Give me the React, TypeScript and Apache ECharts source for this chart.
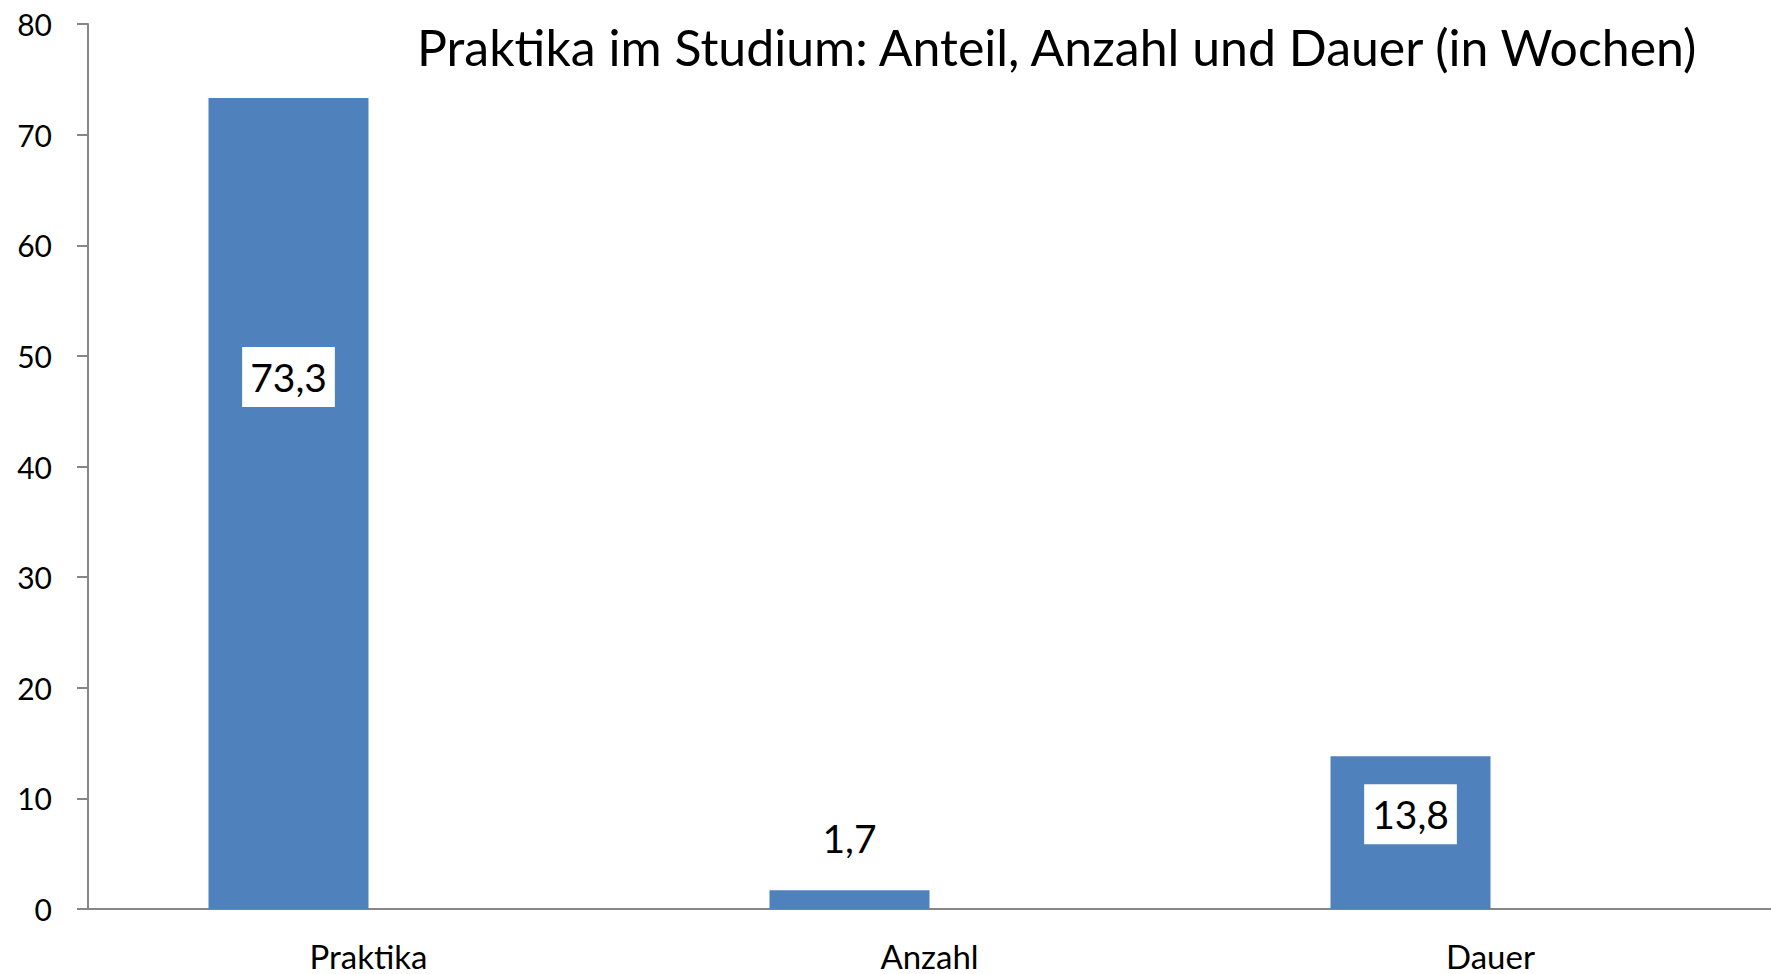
import React, { useEffect, useRef } from "react";
import * as echarts from "echarts";

const titleText = "Praktika im Studium: Anteil, Anzahl und Dauer (in Wochen)";
const categories = ["Praktika", "Anzahl", "Dauer"];
const values = [73.3, 1.7, 13.8];
const labelTexts = ["73,3", "1,7", "13,8"];
const yTicks = [0, 10, 20, 30, 40, 50, 60, 70, 80];

const FONT = "Lato, 'Open Sans', sans-serif";

export default function App() {
  const ref = useRef<HTMLDivElement>(null);
  useEffect(() => {
    if (!ref.current) return;
    const chart = echarts.init(ref.current, null, { renderer: "svg" });
    const labelCfg = [
      { position: ["50%", "34.4%"], boxed: true },
      { position: ["50%", -52], boxed: false },
      { position: ["50%", "38%"], boxed: true },
    ];
    const data = values.map((v, i) => ({
      value: v,
      label: {
        show: true,
        position: labelCfg[i].position,
        align: "center",
        verticalAlign: "middle",
        formatter: labelTexts[i],
        fontFamily: FONT,
        fontSize: 39,
        color: "#000",
        lineHeight: 44,
        backgroundColor: labelCfg[i].boxed ? "#fff" : "transparent",
        padding: [8, 8],
      },
    }));
    chart.setOption({
      animation: false,
      backgroundColor: "#fff",
      title: {
        text: titleText,
        left: 412,
        top: 12,
        textStyle: {
          fontFamily: FONT,
          fontSize: 50,
          fontWeight: "normal",
          color: "#000",
          lineHeight: 60,
        },
      },
      grid: { left: 88, right: 0, top: 24, bottom: 65, containLabel: false },
      xAxis: {
        type: "category",
        data: categories,
        axisLine: { lineStyle: { color: "#868686", width: 2 } },
        axisTick: { show: false },
        axisLabel: {
          fontFamily: FONT,
          fontSize: 33,
          color: "#000",
          margin: 30,
        },
      },
      yAxis: {
        type: "value",
        min: yTicks[0],
        max: yTicks[yTicks.length - 1],
        interval: 10,
        splitLine: { show: false },
        axisLine: { show: true, lineStyle: { color: "#868686", width: 2 } },
        axisTick: { show: true, length: 11, lineStyle: { color: "#868686", width: 2 } },
        axisLabel: {
          fontFamily: FONT,
          fontSize: 30,
          color: "#000",
          margin: 36,
        },
      },
      series: [
        {
          type: "bar",
          data,
          barWidth: 160,
          barGap: "0%",
          itemStyle: { color: "#4F81BD" },
        },
        {
          type: "bar",
          data: categories.map(() => null),
          barWidth: 160,
          barGap: "0%",
        },
      ],
    });
    return () => chart.dispose();
  }, []);
  return (
    <div
      ref={ref}
      style={{ position: "fixed", left: 0, top: 0, width: 1771, height: 974 }}
    />
  );
}
